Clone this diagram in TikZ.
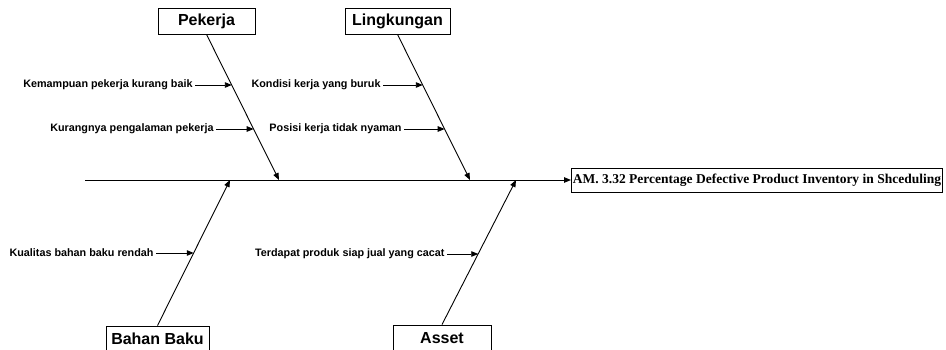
\documentclass[tikz,border=0pt]{standalone}
\usepackage{fontspec}
\setmainfont{Liberation Sans}
\newfontfamily\effectfont{Liberation Serif}
\usetikzlibrary{arrows.meta,calc}
\begin{document}
\begin{tikzpicture}[x=1pt,y=-1pt,
  line width=0.9pt,
  tip/.style={-{Triangle[length=7pt,width=5.5pt]}},
  catbox/.style={draw,fill=white,font=\fontsize{16}{18}\selectfont\bfseries,minimum height=26pt,inner sep=0pt},
  cause/.style={anchor=east,font=\fontsize{10.8}{12}\selectfont\bfseries,inner xsep=2pt,inner ysep=1pt},
  effect/.style={draw,anchor=west,font=\effectfont\fontsize{13.5}{15}\selectfont\bfseries,minimum height=24pt,inner xsep=1.5pt,inner ysep=0pt}]
\useasboundingbox (0,0) rectangle (946,350);
\clip (0,0) rectangle (946,350);

% effect and spine
\node[effect] (eff) at (571,180) {AM. 3.32 Percentage Defective Product Inventory in Shceduling};
\coordinate (tail) at (85,180);
\draw[tip] (tail) -- (eff.west);

% category boxes
\node[catbox,minimum width=97pt] (pek) at (206.5,21) {Pekerja};
\node[catbox,minimum width=105pt] (lin) at (397.5,21) {Lingkungan};
\node[catbox,minimum width=103pt] (bah) at (157.5,339) {Bahan Baku};
\node[catbox,minimum width=98pt] (ass) at (442,338) {Asset};

% bone ends on spine
\coordinate (pekE) at (279,180);
\coordinate (linE) at (470,180);
\coordinate (bahE) at (230,180);
\coordinate (assE) at (516,180);

\draw[tip] (pek.south) -- (pekE);
\draw[tip] (lin.south) -- (linE);
\draw[tip] (bah.north) -- (bahE);
\draw[tip] (ass.north) -- (assE);

% causes
\node[cause] (c1) at (195,85) {Kemampuan pekerja kurang baik};
\node[cause] (c2) at (216,129) {Kurangnya pengalaman pekerja};
\node[cause] (c3) at (383,85) {Kondisi kerja yang buruk};
\node[cause] (c4) at (404,129) {Posisi kerja tidak nyaman};
\node[cause] (c5) at (156,253) {Kualitas bahan baku rendah};
\node[cause] (c6) at (447,254) {Terdapat produk siap jual yang cacat};

\coordinate (p1) at ($(pek.south)!0.349!(pekE)$);
\coordinate (p2) at ($(pek.south)!0.651!(pekE)$);
\coordinate (p3) at ($(lin.south)!0.349!(linE)$);
\coordinate (p4) at ($(lin.south)!0.651!(linE)$);
\coordinate (p5) at ($(bah.north)!0.5!(bahE)$);
\coordinate (p6) at ($(ass.north)!0.49!(assE)$);

\draw[tip] (c1.east) -- (c1.east -| p1);
\draw[tip] (c2.east) -- (c2.east -| p2);
\draw[tip] (c3.east) -- (c3.east -| p3);
\draw[tip] (c4.east) -- (c4.east -| p4);
\draw[tip] (c5.east) -- (c5.east -| p5);
\draw[tip] (c6.east) -- (c6.east -| p6);
\end{tikzpicture}
\end{document}
